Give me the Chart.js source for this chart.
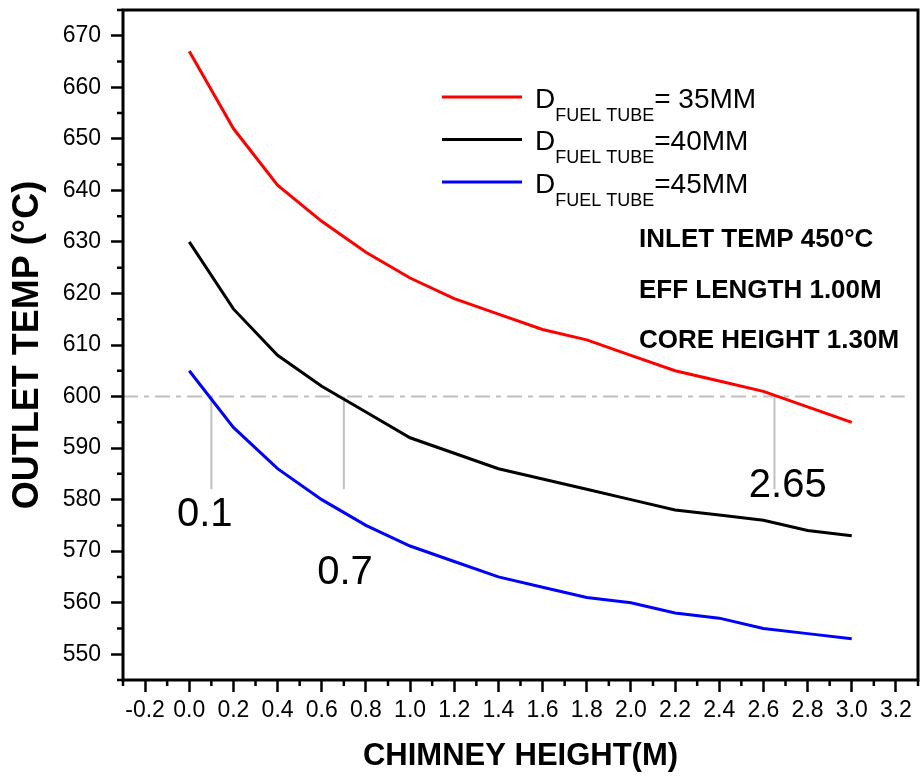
<!DOCTYPE html>
<html>
<head>
<meta charset="utf-8">
<script src="https://cdn.jsdelivr.net/npm/chart.js@4.4.1/dist/chart.umd.min.js"></script>
<style>
    html, body { margin: 0; padding: 0; background: #fff; }
    #wrap { width: 921px; height: 780px; }
</style>
</head>
<body>
<div id="wrap"><canvas id="chart" width="921" height="780"></canvas></div>
<script>
const chimneyHeight = [0.0, 0.2, 0.4, 0.6, 0.8, 1.0, 1.2, 1.4, 1.6, 1.8, 2.0, 2.2, 2.4, 2.6, 2.8, 3.0];
const temp35 = [667, 652, 641, 634, 628, 623, 619, 616, 613, 611, 608, 605, 603, 601, 598, 595];
const temp40 = [630, 617, 608, 602, 597, 592, 589, 586, 584, 582, 580, 578, 577, 576, 574, 573];
const temp45 = [605, 594, 586, 580, 575, 571, 568, 565, 563, 561, 560, 558, 557, 555, 554, 553];

const xTickValues = [-0.2, 0.0, 0.2, 0.4, 0.6, 0.8, 1.0, 1.2, 1.4, 1.6, 1.8, 2.0, 2.2, 2.4, 2.6, 2.8, 3.0, 3.2];
const yTickValues = [550, 560, 570, 580, 590, 600, 610, 620, 630, 640, 650, 660, 670];

const seriesNames = ['= 35MM', '=40MM', '=45MM'];
const seriesColors = ['#ff0000', '#000000', '#0000ff'];

// reference line at 600 and where each curve crosses it
const refTemp = 600;
const refLineX = [-0.3, 3.24];
const crossX = [0.1, 0.7, 2.65];
const crossBottom = 582;
const crossText = ['0.1', '0.7', '2.65'];
const crossLabelX = [0.07, 0.705, 2.71];
const crossLabelY = [577, 565.7, 582.7];

const notes = ['INLET TEMP 450\u00B0C', 'EFF LENGTH 1.00M', 'CORE HEIGHT 1.30M'];

const FONT = '"Liberation Sans", Arial, sans-serif';

const toPoints = (ys) => ys.map((y, i) => ({ x: chimneyHeight[i], y: y }));

const datasets = [temp35, temp40, temp45].map((ys, i) => ({
    data: toPoints(ys),
    borderColor: seriesColors[i],
    borderWidth: 3,
    pointRadius: 0,
    tension: 0,
    fill: false,
}));

datasets.push({
    data: refLineX.map((x) => ({ x: x, y: refTemp })),
    borderColor: '#c0c0c0',
    borderWidth: 2,
    borderDash: [15, 6, 5, 6],
    pointRadius: 0,
});

crossX.forEach((x) => {
    datasets.push({
        data: [{ x: x, y: refTemp }, { x: x, y: crossBottom }],
        borderColor: '#c0c0c0',
        borderWidth: 2,
        pointRadius: 0,
    });
});

const decorations = {
    id: 'decorations',
    afterDraw(chart) {
        const { ctx, chartArea: a, scales: { x, y } } = chart;
        ctx.save();

        // frame
        ctx.strokeStyle = '#000';
        ctx.lineWidth = 3;
        ctx.strokeRect(a.left, a.top, a.right - a.left, a.bottom - a.top);

        // minor ticks
        ctx.lineWidth = 2.5;
        ctx.beginPath();
        for (let i = -3; i <= 33; i++) {
            if (Math.abs(i % 2) !== 1) continue;
            const px = x.getPixelForValue(i / 10);
            ctx.moveTo(px, a.bottom);
            ctx.lineTo(px, a.bottom + 6);
        }
        for (let v = 545; v <= 675; v += 10) {
            const py = y.getPixelForValue(v);
            ctx.moveTo(a.left, py);
            ctx.lineTo(a.left - 6, py);
        }
        ctx.stroke();

        // crossing labels
        ctx.fillStyle = '#000';
        ctx.font = '40px ' + FONT;
        ctx.textAlign = 'center';
        ctx.textBaseline = 'middle';
        crossText.forEach((t, i) => {
            ctx.fillText(t, x.getPixelForValue(crossLabelX[i]), y.getPixelForValue(crossLabelY[i]));
        });

        // notes
        ctx.font = 'bold 26px ' + FONT;
        ctx.textAlign = 'left';
        ctx.textBaseline = 'alphabetic';
        notes.forEach((t, i) => {
            ctx.fillText(t, 639, 247 + i * 50.5);
        });

        // legend
        seriesNames.forEach((name, i) => {
            const ly = 97 + i * 42.5;
            ctx.strokeStyle = seriesColors[i];
            ctx.lineWidth = 3;
            ctx.beginPath();
            ctx.moveTo(442, ly);
            ctx.lineTo(522, ly);
            ctx.stroke();

            let tx = 535;
            const base = ly + 10.5;
            ctx.fillStyle = '#000';
            ctx.font = '28px ' + FONT;
            ctx.fillText('D', tx, base);
            tx += ctx.measureText('D').width;
            ctx.font = '18px ' + FONT;
            ctx.fillText('FUEL TUBE', tx, base + 13);
            tx += ctx.measureText('FUEL TUBE').width;
            ctx.font = '28px ' + FONT;
            ctx.fillText(name, tx, base);
        });

        ctx.restore();
    },
};

new Chart(document.getElementById('chart').getContext('2d'), {
    type: 'line',
    data: { datasets: datasets },
    options: {
        responsive: false,
        animation: false,
        layout: { padding: { top: 10, right: 3, left: 0, bottom: 0 } },
        plugins: {
            legend: { display: false },
            tooltip: { enabled: false },
        },
        scales: {
            x: {
                type: 'linear',
                min: -0.3,
                max: 3.3,
                border: { display: false },
                grid: { drawOnChartArea: false, tickLength: 12, tickWidth: 2.5, tickColor: '#000' },
                afterBuildTicks: (scale) => { scale.ticks = xTickValues.map((v) => ({ value: v })); },
                ticks: {
                    maxRotation: 0,
                    autoSkip: false,
                    padding: 5,
                    color: '#000',
                    font: { family: FONT, size: 23 },
                    callback: (v) => Number(v).toFixed(1),
                },
                title: {
                    display: true,
                    text: 'CHIMNEY HEIGHT(M)',
                    color: '#000',
                    font: { family: FONT, size: 31, weight: 'bold' },
                    padding: { top: 0, bottom: 5 },
                },
                afterFit: (scale) => {
                    scale.height = 100;
                    scale.paddingLeft = 0;
                    scale.paddingRight = 0;
                },
            },
            y: {
                min: 545,
                max: 675,
                border: { display: false },
                grid: { drawOnChartArea: false, tickLength: 12, tickWidth: 2.5, tickColor: '#000' },
                afterBuildTicks: (scale) => { scale.ticks = yTickValues.map((v) => ({ value: v })); },
                ticks: {
                    padding: 10,
                    color: '#000',
                    font: { family: FONT, size: 23 },
                },
                title: {
                    display: true,
                    text: 'OUTLET TEMP (\u00B0C)',
                    color: '#000',
                    font: { family: FONT, size: 36, weight: 'bold' },
                    padding: { top: 6, bottom: 0 },
                },
                afterFit: (scale) => {
                    scale.width = 123;
                    scale.paddingTop = 0;
                    scale.paddingBottom = 0;
                },
            },
        },
    },
    plugins: [decorations],
});
</script>
</body>
</html>
